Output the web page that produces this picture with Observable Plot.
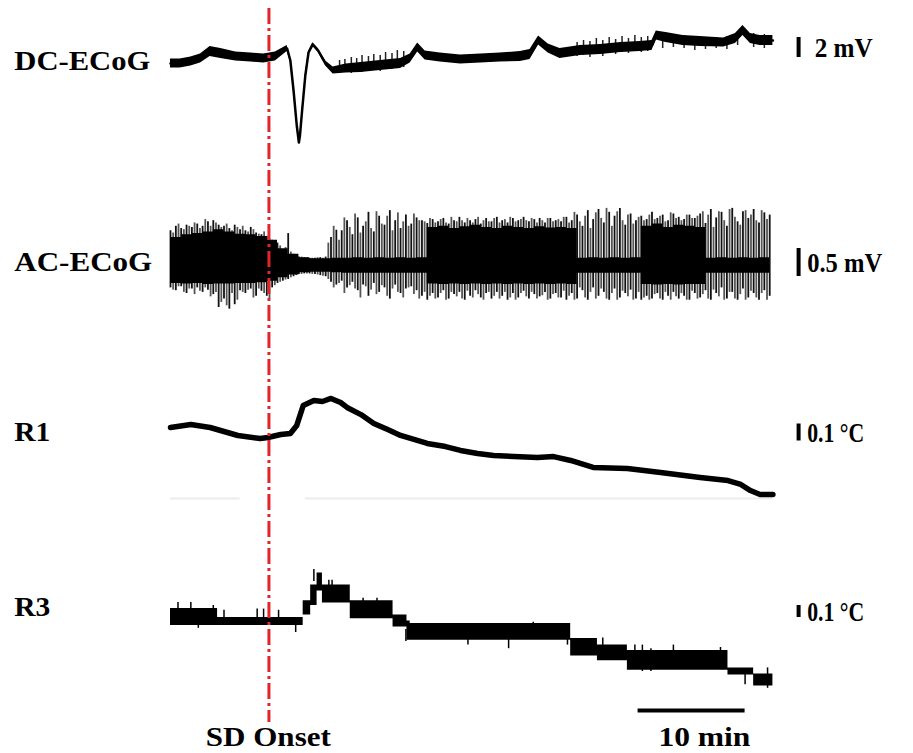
<!DOCTYPE html>
<html><head><meta charset="utf-8">
<script src="https://cdn.jsdelivr.net/npm/d3@7"></script>
<script src="https://cdn.jsdelivr.net/npm/@observablehq/plot@0.6"></script>
<style>html,body{margin:0;padding:0;background:#fff}#chart svg{display:block}</style>
</head><body><div id="chart"></div>
<script>
// ---------------- DATA (time in minutes from start of recording) ----------------
// DC-ECoG (mV, relative to start level)
const dcT = [0.0,0.9,1.9,2.8,3.7,4.7,6.1,7.5,8.7,9.8,10.9,11.2,11.5,11.8,12.0,12.1,12.3,12.6,12.9,13.3,13.8,14.5,15.2,16.4,17.8,19.6,21.5,22.4,23.1,23.8,25.2,27.1,29.0,30.8,32.7,33.6,34.4,35.3,36.4,38.3,40.2,42.1,43.9,45.0,45.4,46.3,47.9,49.5,51.7,52.8,53.5,54.2,55.1,56.3];
const dcV = [0.0,0.0,0.2,0.5,1.2,1.0,0.7,0.6,0.5,0.7,1.5,0.3,-2.7,-6.2,-7.9,-7.2,-4.7,-1.2,1.1,1.9,1.3,0.0,-0.7,-0.5,-0.4,-0.2,0.0,0.5,1.6,0.8,0.6,0.4,0.5,0.6,0.7,0.9,2.3,1.5,1.0,1.3,1.4,1.6,1.7,1.8,2.8,2.6,2.3,2.2,2.1,2.5,3.3,2.5,2.3,2.3];
const dcNoise = [0.45,0.45,0.45,0.45,0.5,0.5,0.45,0.45,0.45,0.45,0.3,0.12,0.1,0.1,0.1,0.1,0.1,0.1,0.12,0.18,0.2,0.25,0.35,0.45,0.5,0.5,0.5,0.45,0.45,0.45,0.45,0.45,0.45,0.45,0.5,0.5,0.45,0.45,0.5,0.5,0.5,0.5,0.5,0.5,0.45,0.5,0.5,0.5,0.45,0.5,0.5,0.5,0.5,0.5];
// DC-ECoG noise excursions (absolute mV)
const dcSpikeT = [15.8,16.3,16.9,17.4,17.9,18.5,19.0,19.6,20.1,20.7,21.2,21.8,38.0,38.6,39.2,39.8,40.4,41.0,41.6,42.2,42.8,43.4,44.0,44.6,46.0,47.0,48.0,49.0,50.0,51.0,52.0,53.0,54.5,55.5];
const dcSpikeTop = [0.3,0.4,0.6,0.5,0.8,0.7,0.9,0.8,1.1,1.0,1.3,1.2,2.1,2.3,2.2,2.5,2.3,2.6,2.4,2.7,2.5,2.8,2.6,2.7,3.0,2.9,2.8,2.7,2.6,2.6,2.7,3.1,3.0,2.9];
const dcSpikeBottom = [-1.0,-0.9,-1.0,-0.8,-0.9,-0.8,-0.7,-0.8,-0.6,-0.6,-0.5,-0.4,0.7,0.8,0.6,0.9,0.7,1.0,0.9,1.1,1.0,1.2,1.1,1.2,1.5,1.6,1.5,1.3,1.4,1.5,1.4,1.8,1.6,1.5];

// AC-ECoG (mV): dense core envelope every 1 min, spike extremes every 0.5 min (two interleaved sets)
const acCoreStep = 1;
const acCoreHi = [0.50,0.55,0.57,0.60,0.64,0.60,0.56,0.55,0.52,0.45,0.30,0.20,0.14,0.12,0.12,0.13,0.13,0.14,0.13,0.14,0.13,0.14,0.13,0.14,0.68,0.70,0.66,0.69,0.72,0.68,0.66,0.70,0.68,0.66,0.69,0.67,0.68,0.66,0.13,0.14,0.13,0.14,0.13,0.14,0.70,0.74,0.68,0.72,0.70,0.68,0.13,0.14,0.13,0.14,0.13,0.14,0.14];
const acCoreLo = [-0.32,-0.33,-0.32,-0.34,-0.33,-0.33,-0.32,-0.32,-0.31,-0.28,-0.22,-0.17,-0.13,-0.12,-0.12,-0.13,-0.14,-0.14,-0.14,-0.14,-0.14,-0.14,-0.14,-0.14,-0.33,-0.34,-0.33,-0.34,-0.33,-0.34,-0.33,-0.34,-0.33,-0.34,-0.33,-0.34,-0.33,-0.34,-0.14,-0.14,-0.14,-0.14,-0.14,-0.14,-0.34,-0.35,-0.34,-0.35,-0.34,-0.34,-0.14,-0.14,-0.14,-0.14,-0.14,-0.14,-0.14];
const acSpikeStep = 0.5;
const acSpikeHi = [0.62,0.70,0.66,0.72,0.68,0.74,0.70,0.78,0.80,0.72,
 0.70,0.66,0.72,0.64,0.62,0.68,0.58,0.55,0.52,0.45,
 0.40,0.28,0.57,0.20,0.15,0.14,0.13,0.13,0.14,0.15,
 0.50,0.63,0.62,0.80,0.55,0.85,0.70,0.95,0.60,0.88,
 0.72,0.98,0.80,0.66,0.90,0.74,0.85,0.80,0.75,0.82,
 0.78,0.84,0.74,0.80,0.86,0.76,0.80,0.82,0.74,0.84,
 0.78,0.86,0.80,0.76,0.84,0.80,0.86,0.78,0.82,0.84,
 0.76,0.84,0.80,0.78,0.86,0.80,0.90,0.70,0.98,0.82,
 1.00,0.76,0.95,0.88,1.02,0.72,0.92,0.80,0.88,0.82,
 0.95,0.84,0.90,0.80,0.92,0.86,0.82,0.90,0.84,0.92,
 0.75,1.00,0.85,0.95,0.70,1.02,0.78,0.96,0.84,1.00,
 0.76,0.94,0.90];
const acSpikeLo = [-0.40,-0.45,-0.38,-0.50,-0.42,-0.40,-0.48,-0.44,-0.52,-0.75,
 -0.60,-0.78,-0.70,-0.45,-0.50,-0.42,-0.55,-0.46,-0.55,-0.40,
 -0.32,-0.28,-0.25,-0.20,-0.16,-0.15,-0.15,-0.16,-0.18,-0.20,
 -0.30,-0.35,-0.28,-0.40,-0.30,-0.45,-0.35,-0.55,-0.32,-0.48,
 -0.40,-0.60,-0.35,-0.50,-0.42,-0.38,-0.45,-0.55,-0.62,-0.50,
 -0.58,-0.45,-0.60,-0.52,-0.48,-0.62,-0.55,-0.45,-0.58,-0.50,
 -0.60,-0.48,-0.55,-0.62,-0.50,-0.58,-0.46,-0.60,-0.52,-0.56,
 -0.48,-0.60,-0.50,-0.58,-0.62,-0.50,-0.60,-0.45,-0.62,-0.40,
 -0.55,-0.48,-0.62,-0.42,-0.58,-0.50,-0.44,-0.60,-0.62,-0.55,
 -0.60,-0.50,-0.62,-0.55,-0.48,-0.60,-0.55,-0.62,-0.50,-0.58,
 -0.45,-0.62,-0.50,-0.40,-0.60,-0.48,-0.62,-0.42,-0.58,-0.50,
 -0.62,-0.45,-0.55];
const acSpike2Offset = 0.25;
const acSpike2Hi = [0.58,0.74,0.64,0.70,0.76,0.66,0.82,0.70,0.76,0.68,
 0.74,0.62,0.68,0.70,0.60,0.64,0.56,0.60,0.48,0.42,
 0.35,0.32,0.24,0.18,0.15,0.14,0.13,0.14,0.13,0.40,
 0.70,0.45,0.85,0.68,0.92,0.58,0.78,0.66,0.96,0.74,
 0.88,0.62,0.94,0.78,0.70,0.92,0.80,0.78,0.84,0.76,
 0.82,0.76,0.86,0.78,0.80,0.84,0.76,0.86,0.80,0.78,
 0.84,0.76,0.82,0.86,0.78,0.82,0.80,0.84,0.76,0.80,
 0.84,0.78,0.82,0.86,0.76,0.95,0.78,0.88,0.66,0.94,
 0.84,1.02,0.70,0.96,0.80,0.90,0.74,0.86,0.80,0.90,
 0.82,0.88,0.78,0.94,0.84,0.80,0.90,0.84,0.88,0.96,
 0.90,0.68,0.96,0.80,1.00,0.86,0.72,0.98,0.90,0.80,
 0.98,0.82];
const acSpike2Lo = [-0.44,-0.38,-0.48,-0.42,-0.52,-0.46,-0.40,-0.56,-0.48,-0.66,
 -0.72,-0.50,-0.62,-0.48,-0.44,-0.58,-0.42,-0.50,-0.60,-0.36,
 -0.30,-0.26,-0.22,-0.18,-0.16,-0.15,-0.16,-0.17,-0.19,-0.25,
 -0.40,-0.32,-0.50,-0.36,-0.42,-0.58,-0.38,-0.44,-0.52,-0.36,
 -0.55,-0.42,-0.48,-0.58,-0.40,-0.52,-0.60,-0.48,-0.55,-0.60,
 -0.50,-0.62,-0.48,-0.56,-0.60,-0.46,-0.58,-0.52,-0.62,-0.48,
 -0.55,-0.60,-0.48,-0.58,-0.62,-0.50,-0.56,-0.48,-0.60,-0.54,
 -0.62,-0.52,-0.58,-0.46,-0.55,-0.62,-0.40,-0.58,-0.48,-0.60,
 -0.42,-0.60,-0.50,-0.62,-0.46,-0.56,-0.62,-0.48,-0.58,-0.62,
 -0.52,-0.60,-0.48,-0.62,-0.56,-0.50,-0.62,-0.46,-0.60,-0.52,
 -0.60,-0.44,-0.56,-0.62,-0.48,-0.60,-0.52,-0.62,-0.46,-0.58,
 -0.50,-0.62];

// R1 temperature (°C, relative to start)
const r1T = [0,1.9,3.7,6.3,8.4,9.1,10.3,11.2,11.8,12.4,13.4,14.2,15.0,15.9,16.5,17.8,19.0,20.3,21.5,24.0,25.7,27.1,28.7,30.2,34.3,35.8,37.4,39.5,42.7,45.8,49.5,52.1,53.3,54.2,55.1,56.3];
const r1V = [0,0.018,0,-0.047,-0.065,-0.059,-0.041,-0.035,0.012,0.129,0.159,0.153,0.171,0.147,0.118,0.076,0.024,-0.012,-0.047,-0.094,-0.112,-0.135,-0.153,-0.165,-0.176,-0.171,-0.194,-0.235,-0.241,-0.265,-0.294,-0.312,-0.335,-0.371,-0.394,-0.394];

// R3 temperature (°C, quantised steps: upper / lower band) and single-sample ticks
const r3T  = [0,4.4,12.4,13.1,13.7,14.2,16.8,20.8,22.1,22.4,37.4,39.9,42.7,52.1,54.5,56.3];
const r3Hi = [0.075,0.0,0.14,0.27,0.37,0.27,0.14,0.02,-0.03,-0.05,-0.175,-0.23,-0.275,-0.42,-0.47,-0.47];
const r3Lo = [-0.067,-0.067,0.02,0.10,0.22,0.12,-0.01,-0.08,-0.19,-0.19,-0.32,-0.36,-0.44,-0.48,-0.57,-0.57];
const r3TickT  = [0.7,1.9,2.6,4.0,5.0,8.1,8.7,10.1,11.7,13.4,14.8,15.1,18.0,19.3,22.0,27.8,31.6,33.9,37.1,40.4,43.4,44.1,44.9,47.0,51.4,53.7,55.8];
const r3TickHi = [0.125,0.125,0.0,0.10,0.06,0.07,0.07,0.06,-0.03,0.40,0.31,0.31,0.16,0.16,-0.10,-0.15,-0.10,-0.04,-0.15,-0.17,-0.23,-0.23,-0.26,-0.23,-0.25,-0.45,-0.42];
const r3TickLo = [0.0,0.0,-0.09,0.0,0.0,0.0,0.0,0.0,-0.125,0.30,0.20,0.20,0.10,0.10,-0.20,-0.23,-0.26,-0.10,-0.23,-0.25,-0.30,-0.45,-0.45,-0.30,-0.35,-0.56,-0.59];

// annotations
const traceNames = ["DC-ECoG","AC-ECoG","R1","R3"];
const scaleLabels = ["2 mV","0.5 mV","0.1 °C","0.1 °C"];
const scaleValues = [2, 0.5, 0.1, 0.1];
const sdOnset = 9.2;          // min
const timeBarMinutes = 10;
const onsetLabel = "SD Onset";
const timeBarLabel = "10 min";

// ---------------- LAYOUT ----------------
const W = 913, H = 753;
const pxPerMin = 10.7, startPx = 170;
const xDomain = [-startPx / pxPerMin, (W - startPx) / pxPerMin];
const rows = [
  {base: 63,  gain: 10,  labelY: 61,  barX: 58.7, textX: 60.2, scaleY: 47},
  {base: 265, gain: 56,  labelY: 262, barX: 58.7, textX: 59.5, scaleY: 262},
  {base: 427, gain: 170, labelY: 432, barX: 58.7, textX: 59.5, scaleY: 432},
  {base: 617, gain: 120, labelY: 607, barX: 58.7, textX: 59.5, scaleY: 611}
];
const Y = (i, v) => rows[i].base - v * rows[i].gain;

const dcRows = dcT.map((t, i) => ({t, v: dcV[i], n: dcNoise[i]}));
const dcSpikes = dcSpikeT.map((t, i) => ({t, hi: dcSpikeTop[i], lo: dcSpikeBottom[i]}));
const acCore = acCoreHi.map((hi, i) => ({t: i * acCoreStep, hi, lo: acCoreLo[i]}));
const acSpikes = acSpikeHi.map((hi, i) => ({t: i * acSpikeStep, hi, lo: acSpikeLo[i]}));
const acSpikes2 = acSpike2Hi.map((hi, i) => ({t: i * acSpikeStep + acSpike2Offset, hi, lo: acSpike2Lo[i]}));
const r1Rows = r1T.map((t, i) => ({t, v: r1V[i]}));
const r3Rows = r3T.map((t, i) => ({t, hi: r3Hi[i], lo: r3Lo[i]}));
const r3Ticks = r3TickT.map((t, i) => ({t, hi: r3TickHi[i], lo: r3TickLo[i]}));
const bars = scaleValues.map((v, i) => ({i, v, label: scaleLabels[i]}));
const names = traceNames.map((name, i) => ({i, name}));

const font = "'Liberation Serif', 'Times New Roman', serif";
const red = "#e3242b";

const plot = Plot.plot({
  width: W, height: H,
  marginTop: 0, marginRight: 0, marginBottom: 0, marginLeft: 0,
  x: {domain: xDomain, axis: null},
  y: {domain: [0, H], range: [0, H], axis: null},
  style: {background: "#fff"},
  marks: [
    Plot.ruleY([498], {x1: 0, x2: 6.5, stroke: "#ececec", strokeWidth: 2}),
    Plot.ruleY([498], {x1: 12.6, x2: 56.3, stroke: "#ececec", strokeWidth: 2}),
    // DC-ECoG
    Plot.ruleX(dcSpikes, {x: "t", y1: d => Y(0, d.hi), y2: d => Y(0, d.lo), stroke: "#222", strokeWidth: 1.5}),
    Plot.areaY(dcRows, {x: "t", y1: d => Y(0, d.v + d.n), y2: d => Y(0, d.v - d.n), fill: "#000"}),
    Plot.line(dcRows, {x: "t", y: d => Y(0, d.v), stroke: "#000", strokeWidth: 2.5}),
    // AC-ECoG
    Plot.ruleX(acSpikes2, {x: "t", y1: d => Y(1, d.hi), y2: d => Y(1, d.lo), stroke: "#555", strokeWidth: 1.8}),
    Plot.ruleX(acSpikes, {x: "t", y1: d => Y(1, d.hi), y2: d => Y(1, d.lo), stroke: "#111", strokeWidth: 1.8}),
    Plot.areaY(acCore, {x: "t", y1: d => Y(1, d.hi), y2: d => Y(1, d.lo), fill: "#000", curve: "step-after"}),
    // R1
    Plot.line(r1Rows, {x: "t", y: d => Y(2, d.v), stroke: "#000", strokeWidth: 5.5, strokeLinejoin: "round"}),
    // R3
    Plot.ruleX(r3Ticks, {x: "t", y1: d => Y(3, d.hi), y2: d => Y(3, d.lo), stroke: "#000", strokeWidth: 1.5}),
    Plot.areaY(r3Rows, {x: "t", y1: d => Y(3, d.hi), y2: d => Y(3, d.lo), fill: "#000", curve: "step-after"}),
    // SD onset marker
    Plot.ruleX([sdOnset], {y1: 8, y2: 722, stroke: red, strokeWidth: 3, strokeDasharray: "16,4,3,4"}),
    // amplitude scale bars
    Plot.ruleX(bars, {x: d => rows[d.i].barX, y1: d => rows[d.i].scaleY - d.v * rows[d.i].gain / 2, y2: d => rows[d.i].scaleY + d.v * rows[d.i].gain / 2, stroke: "#000", strokeWidth: 4}),
    Plot.text(bars, {x: d => rows[d.i].textX, y: d => rows[d.i].scaleY + 1, text: "label", textAnchor: "start", fontSize: 28, fontWeight: "bold", fontFamily: font, fill: "#000"}),
    // trace names
    Plot.text(names, {x: -14.6, y: d => rows[d.i].labelY, text: "name", textAnchor: "start", fontSize: 28, fontWeight: "bold", fontFamily: font, fill: "#000"}),
    // time scale bar
    Plot.ruleY([710], {x1: 43.7, x2: 43.7 + timeBarMinutes, stroke: "#000", strokeWidth: 4}),
    Plot.text([timeBarLabel], {x: 45.6, y: 737, text: d => d, textAnchor: "start", fontSize: 27, fontWeight: "bold", fontFamily: font, fill: "#000"}),
    Plot.text([onsetLabel], {x: 3.3, y: 737, text: d => d, textAnchor: "start", fontSize: 27, fontWeight: "bold", fontFamily: font, fill: "#000"})
  ]
});

const textWidths = {"DC-ECoG": 136, "AC-ECoG": 138, "R1": 36, "R3": 36, "2 mV": 58, "0.5 mV": 75, "0.1 °C": 57, "SD Onset": 125, "10 min": 92};
plot.querySelectorAll("text").forEach(el => {
  const w = textWidths[el.textContent.trim()];
  if (w) { el.setAttribute("textLength", w); el.setAttribute("lengthAdjust", "spacingAndGlyphs"); }
});
document.getElementById("chart").appendChild(plot);
</script>
</body></html>
